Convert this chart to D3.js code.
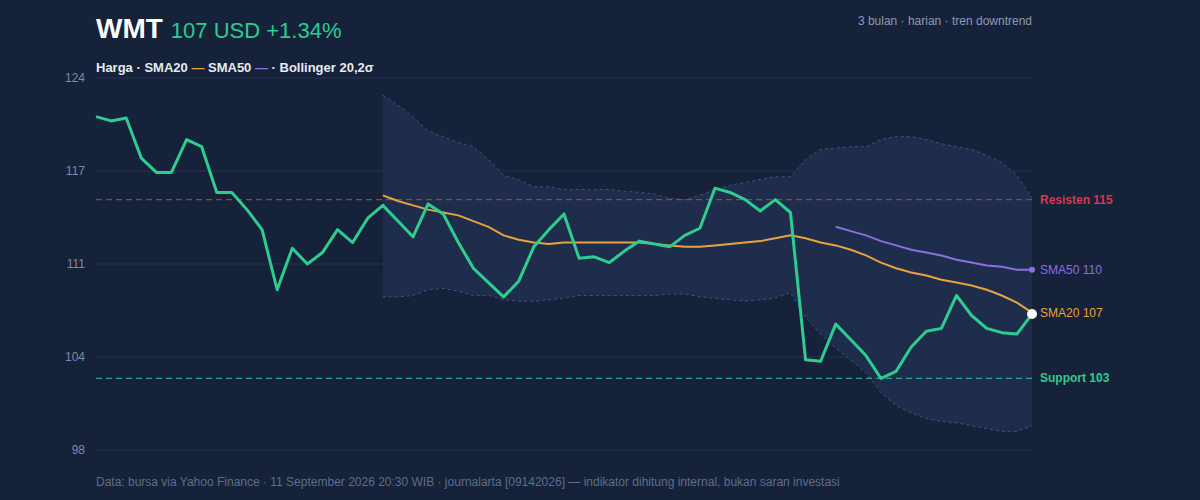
<!DOCTYPE html>
<html>
<head>
<meta charset="utf-8">
<script src="https://cdn.jsdelivr.net/npm/d3@7"></script>
<style>
  body { margin: 0; background: #15223a; font-family: "Helvetica Neue", "Liberation Sans", Arial, sans-serif; }
  svg { display: block; }
</style>
</head>
<body>
<div id="chart"></div>
<script>
/* globals d3 */

// price (63 trading days)
var price = [121.3, 121.0, 121.2, 118.4, 117.4, 117.4, 119.7, 119.2, 116.0, 116.0,
  114.8, 113.4, 109.2, 112.1, 111.0, 111.8, 113.4, 112.5, 114.2, 115.1,
  114.0, 112.9, 115.2, 114.5, 112.5, 110.7, 109.7, 108.7, 109.8, 112.2,
  113.4, 114.5, 111.4, 111.5, 111.1, 111.9, 112.6, 112.4, 112.2, 113.0,
  113.5, 116.3, 116.0, 115.5, 114.7, 115.5, 114.6, 104.3, 104.2, 106.8,
  105.7, 104.6, 103.0, 103.5, 105.2, 106.3, 106.5, 108.8, 107.4, 106.5,
  106.2, 106.1, 107.5];

// indicators start at index 19 (SMA20, bands) and 49 (SMA50)
var sma20Start = 19;
var sma20 = [115.8, 115.4, 115.1, 114.8, 114.6, 114.4, 114.0, 113.6, 113.0, 112.7,
  112.5, 112.4, 112.5, 112.5, 112.5, 112.5, 112.5, 112.5, 112.4, 112.3,
  112.2, 112.2, 112.3, 112.4, 112.5, 112.6, 112.8, 113.0, 112.8, 112.5,
  112.3, 112.0, 111.6, 111.1, 110.7, 110.4, 110.2, 109.9, 109.7, 109.5,
  109.2, 108.8, 108.3, 107.6];
var bandUpper = [122.8, 122.1, 121.3, 120.3, 119.9, 119.5, 119.2, 118.3, 117.2, 116.9,
  116.4, 116.4, 116.2, 116.2, 116.2, 116.2, 116.1, 116.0, 115.9, 115.6,
  115.5, 115.8, 116.2, 116.5, 116.7, 116.9, 117.1, 117.1, 118.3, 119.0,
  119.1, 119.2, 119.2, 119.7, 119.9, 119.9, 119.7, 119.4, 119.2, 119.0,
  118.6, 118.1, 117.2, 115.6];
var bandLower = [108.7, 108.7, 108.8, 109.2, 109.3, 109.1, 108.8, 108.8, 108.5, 108.4,
  108.4, 108.5, 108.6, 108.8, 108.8, 108.8, 108.8, 108.8, 108.8, 108.9,
  108.9, 108.7, 108.6, 108.5, 108.4, 108.5, 108.6, 109.0, 107.3, 106.1,
  105.1, 104.3, 103.4, 102.0, 101.1, 100.6, 100.2, 100.0, 99.9, 99.7,
  99.5, 99.3, 99.3, 99.7];
var sma50Start = 49;
var sma50 = [113.6, 113.3, 113.0, 112.6, 112.3, 112.0, 111.8, 111.6, 111.3, 111.1,
  110.9, 110.8, 110.6, 110.6];

var yTicks = [124, 117.5, 111, 104.5, 98];
var yTickLabels = ["124", "117", "111", "104", "98"];
var resistance = 115.5, support = 103.0;

var W = 1200, H = 500;
var m = { left: 96, right: 168, top: 78, bottom: 50 };

var svg = d3.select("#chart").append("svg").attr("width", W).attr("height", H);
svg.append("rect").attr("width", W).attr("height", H).attr("fill", "#15223a");

var x = d3.scaleLinear().domain([0, price.length - 1]).range([m.left, W - m.right]);
var y = d3.scaleLinear().domain([98, 124]).range([H - m.bottom, m.top]);

// grid
svg.append("g").selectAll("line").data(yTicks).enter().append("line")
  .attr("x1", m.left).attr("x2", W - m.right)
  .attr("y1", function(d) { return y(d); }).attr("y2", function(d) { return y(d); })
  .attr("stroke", "#24324d").attr("stroke-width", 1);
svg.append("g").selectAll("text").data(yTicks).enter().append("text")
  .attr("x", 85).attr("y", function(d) { return y(d) + 4; })
  .attr("text-anchor", "end").attr("fill", "#7f8ba3").attr("font-size", 12)
  .text(function(d, i) { return yTickLabels[i]; });

// bollinger band
var band = bandUpper.map(function(u, i) { return { i: i + sma20Start, u: u, l: bandLower[i] }; });
svg.append("path").datum(band)
  .attr("d", d3.area().x(function(d) { return x(d.i); }).y0(function(d) { return y(d.l); }).y1(function(d) { return y(d.u); }))
  .attr("fill", "#1e2d4b");
[["u"], ["l"]].forEach(function(k) {
  svg.append("path").datum(band)
    .attr("d", d3.line().x(function(d) { return x(d.i); }).y(function(d) { return y(d[k[0]]); }))
    .attr("fill", "none").attr("stroke", "#3f5378").attr("stroke-width", 1).attr("stroke-dasharray", "3,3");
});

// support / resistance
[[resistance, "#d9364f", "Resisten 115"], [support, "#2ecc8f", "Support 103"]].forEach(function(r) {
  svg.append("line").attr("x1", m.left).attr("x2", W - m.right)
    .attr("y1", y(r[0])).attr("y2", y(r[0]))
    .attr("stroke", r[1]).attr("stroke-width", 1.3).attr("stroke-dasharray", "6,4").attr("opacity", 0.8);
  svg.append("text").attr("x", 1040).attr("y", y(r[0]) + 4)
    .attr("fill", r[1]).attr("font-size", 12).attr("font-weight", "bold").text(r[2]);
});

var line = d3.line().x(function(d) { return x(d.i); }).y(function(d) { return y(d.v); });
function series(arr, start) { return arr.map(function(v, i) { return { i: i + start, v: v }; }); }

svg.append("path").datum(series(sma50, sma50Start)).attr("d", line)
  .attr("fill", "none").attr("stroke", "#8b6fe0").attr("stroke-width", 2);
svg.append("path").datum(series(sma20, sma20Start)).attr("d", line)
  .attr("fill", "none").attr("stroke", "#e8a33d").attr("stroke-width", 2);
svg.append("path").datum(series(price, 0)).attr("d", line)
  .attr("fill", "none").attr("stroke", "#2ecc8f").attr("stroke-width", 3).attr("stroke-linejoin", "round");

// end markers
var last = price.length - 1;
svg.append("circle").attr("cx", x(last)).attr("cy", y(sma50[sma50.length - 1])).attr("r", 3).attr("fill", "#8b6fe0");
svg.append("circle").attr("cx", x(last)).attr("cy", y(price[last])).attr("r", 5).attr("fill", "#fff");
svg.append("text").attr("x", 1040).attr("y", y(sma50[sma50.length - 1]) + 4)
  .attr("fill", "#8b6fe0").attr("font-size", 12).text("SMA50 110");
svg.append("text").attr("x", 1040).attr("y", y(sma20[sma20.length - 1]) + 4)
  .attr("fill", "#e8a33d").attr("font-size", 12).text("SMA20 107");

// header
var title = svg.append("text").attr("x", 96).attr("y", 38);
title.append("tspan").attr("fill", "#fff").attr("font-size", 28).attr("font-weight", "bold").text("WMT");
title.append("tspan").attr("dx", 8).attr("fill", "#2ecc8f").attr("font-size", 22).text("107 USD +1.34%");
svg.append("text").attr("x", 1032).attr("y", 25).attr("text-anchor", "end")
  .attr("fill", "#8f9ab0").attr("font-size", 12).text("3 bulan · harian · tren downtrend");

var leg = svg.append("text").attr("x", 96).attr("y", 72).attr("font-size", 13).attr("font-weight", "bold").attr("fill", "#e6eaf2");
leg.append("tspan").text("Harga · SMA20 ");
leg.append("tspan").attr("fill", "#e8a33d").text("—");
leg.append("tspan").text(" SMA50 ");
leg.append("tspan").attr("fill", "#8b6fe0").text("—");
leg.append("tspan").text(" · Bollinger 20,2σ");

svg.append("text").attr("x", 96).attr("y", 486).attr("fill", "#5f6d88").attr("font-size", 12)
  .text("Data: bursa via Yahoo Finance · 11 September 2026 20:30 WIB · journalarta [09142026] — indikator dihitung internal, bukan saran investasi");
</script>
</body>
</html>
